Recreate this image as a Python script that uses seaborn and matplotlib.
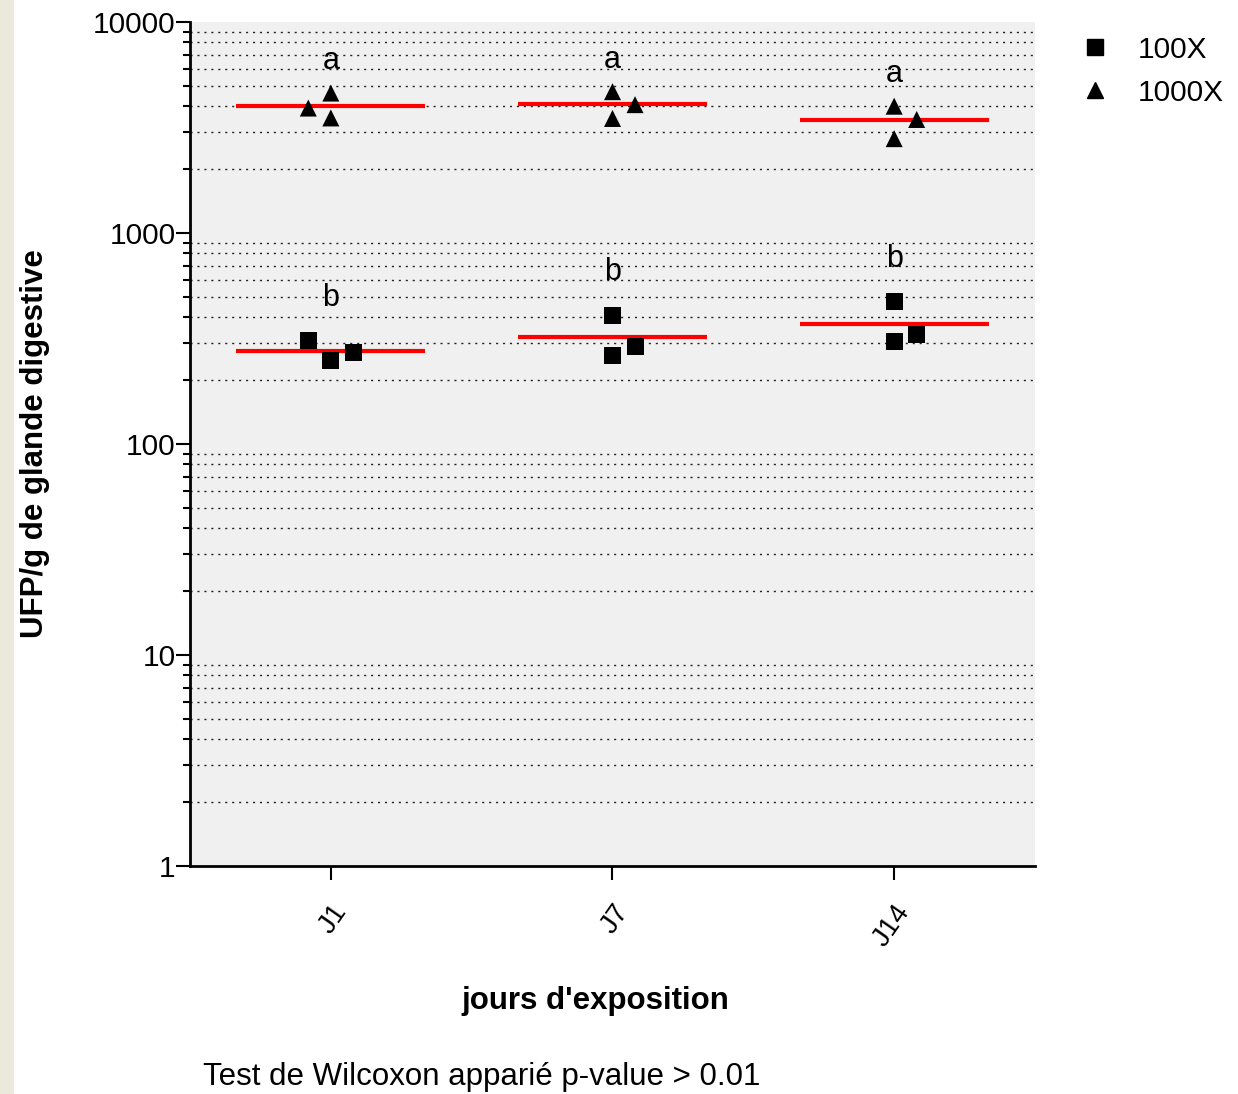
import numpy as np
import pandas as pd
import matplotlib
matplotlib.use("Agg")
import matplotlib.pyplot as plt
import matplotlib.ticker as mticker
from matplotlib.patches import Rectangle
from matplotlib.lines import Line2D
import seaborn as sns

# data (UFP/g de glande digestive)
jours = ["J1", "J7", "J14"]
ufp_100x = [[309, 250, 270], [408, 264, 289], [472, 305, 332]]
ufp_1000x = [[3910, 4605, 3510], [4675, 3490, 4058], [3990, 2800, 3452]]
lettres_100x = ["b", "b", "b"]
lettres_1000x = ["a", "a", "a"]

# horizontal spread of points inside a column (like GraphPad does)
jitter_100x = [[-0.08, 0.0, 0.08], [0.0, 0.0, 0.08], [0.0, 0.0, 0.08]]
jitter_1000x = [[-0.08, 0.0, 0.0], [0.0, 0.0, 0.08], [0.0, 0.0, 0.08]]

rows = []
for i, j in enumerate(jours):
    for v, dx in zip(ufp_100x[i], jitter_100x[i]):
        rows.append({"jour": j, "pos": i, "x": i + dx, "dilution": "100X", "ufp": v})
    for v, dx in zip(ufp_1000x[i], jitter_1000x[i]):
        rows.append({"jour": j, "pos": i, "x": i + dx, "dilution": "1000X", "ufp": v})
df = pd.DataFrame(rows)

sns.set_style("white")
plt.rcParams["font.family"] = ["Liberation Sans", "DejaVu Sans"]
for k in ["text.color", "axes.labelcolor", "xtick.color", "ytick.color"]:
    plt.rcParams[k] = "black"

fig = plt.figure(figsize=(12.38, 10.94), dpi=100)
fig.patches.append(Rectangle((0, 0), 14 / 1238, 1, transform=fig.transFigure,
                             facecolor="#ebe8dc", edgecolor="none", zorder=0))
ax = fig.add_axes([190 / 1238, 1 - 866 / 1094, 845 / 1238, 844 / 1094])
ax.set_facecolor("#f0f0f0")

sns.scatterplot(data=df, x="x", y="ufp", style="dilution",
                markers={"100X": "s", "1000X": "^"}, color="black",
                s=150, edgecolor="none", legend=False, ax=ax, zorder=4)

# red mean lines
moy = df.groupby(["pos", "dilution"])["ufp"].mean().reset_index()
ax.hlines(moy["ufp"], moy["pos"] - 0.335, moy["pos"] + 0.335,
          color="red", linewidth=3, zorder=3)

# letters above each group
maxi = df.groupby(["pos", "dilution"])["ufp"].max()
for i in range(len(jours)):
    ax.text(i, maxi[(i, "100X")] * 1.6, lettres_100x[i], ha="center",
            va="center", fontsize=22, zorder=5)
    ax.text(i, maxi[(i, "1000X")] * 1.42, lettres_1000x[i], ha="center",
            va="center", fontsize=22, zorder=5)

ax.set_yscale("log")
ax.set_ylim(1, 10000)
ax.set_xlim(-0.5, 2.5)
ax.yaxis.set_major_locator(mticker.FixedLocator([1, 10, 100, 1000, 10000]))
ax.yaxis.set_major_formatter(mticker.FuncFormatter(lambda v, p: f"{int(v)}"))
ax.yaxis.set_minor_locator(mticker.LogLocator(base=10, subs=np.arange(2, 10)))
ax.yaxis.set_minor_formatter(mticker.NullFormatter())
ax.grid(True, which="minor", axis="y", color="#222222", linewidth=1.0,
        linestyle=(0, (1.5, 3.5)))
ax.grid(False, which="major")
ax.set_axisbelow(True)

ax.set_xticks(range(len(jours)))
ax.set_xticklabels(jours, rotation=55, ha="right", rotation_mode="anchor",
                   fontsize=20)
ax.tick_params(axis="x", which="major", direction="out", length=10, width=1.5,
               pad=14, bottom=True)
ax.tick_params(axis="y", which="major", direction="out", length=10, width=1.5,
               labelsize=21.5, left=True, pad=0.5)
ax.tick_params(axis="y", which="minor", direction="out", length=5, width=1.5,
               left=True)

for s in ["top", "right"]:
    ax.spines[s].set_visible(False)
for s in ["left", "bottom"]:
    ax.spines[s].set_color("black")
    ax.spines[s].set_linewidth(2)

ax.set_xlabel("jours d'exposition", fontsize=22.5, fontweight="bold")
ax.xaxis.set_label_coords(0.48, -0.142)
ax.set_ylabel("UFP/g de glande digestive", fontsize=22.5, fontweight="bold")
ax.yaxis.set_label_coords(-0.166, 0.5)

handles = [Line2D([], [], marker="s", color="black", linestyle="none", markersize=11),
           Line2D([], [], marker="^", color="black", linestyle="none", markersize=12)]
fig.legend(handles, ["100X", "1000X"], loc="upper left",
           bbox_to_anchor=(1062 / 1238, 1 - 21 / 1094), frameon=False,
           fontsize=21.5, borderpad=0, handletextpad=0.85, labelspacing=0.5,
           handlelength=1.2)

fig.text(203 / 1238, 1 - 1077 / 1094, "Test de Wilcoxon apparié p-value > 0.01",
         fontsize=22.5, va="center", ha="left")

fig.savefig("out.png", dpi=100, facecolor="white")
